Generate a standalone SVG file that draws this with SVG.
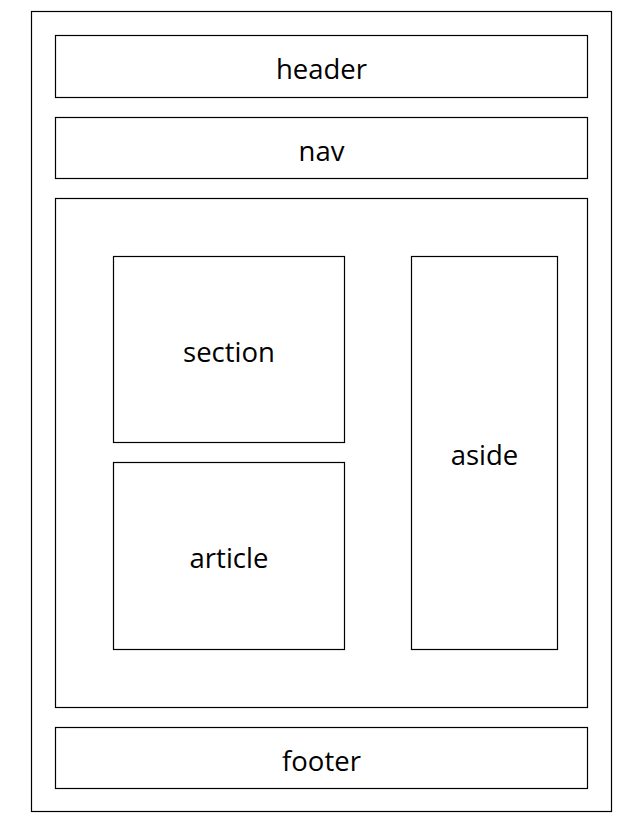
<svg xmlns="http://www.w3.org/2000/svg" width="640" height="828" viewBox="0 0 640 828">
<style>
rect{fill:#fff;stroke:#000;stroke-width:1.2}
text{font-family:"Open Sans","Noto Sans","DejaVu Sans",sans-serif;font-size:27.5px;fill:#000;text-anchor:middle}
</style>
<rect x="0" y="0" width="640" height="828" style="stroke:none"/>
<g id="page"><rect x="31.5" y="11.5" width="580" height="800"/></g>
<g id="header"><rect x="55.5" y="35.5" width="532" height="62"/><text x="321.5" y="78.5">header</text></g>
<g id="nav"><rect x="55.5" y="117.5" width="532" height="61"/><text x="321.5" y="160.5">nav</text></g>
<g id="main"><rect x="55.5" y="198.5" width="532" height="509"/></g>
<g id="section"><rect x="113.5" y="256.5" width="231" height="186"/><text x="229" y="362">section</text></g>
<g id="article"><rect x="113.5" y="462.5" width="231" height="187"/><text x="229" y="568">article</text></g>
<g id="aside"><rect x="411.5" y="256.5" width="146" height="393"/><text x="484.5" y="465">aside</text></g>
<g id="footer"><rect x="55.5" y="727.5" width="532" height="61"/><text x="321.5" y="770.5">footer</text></g>
<g id="connectors"></g>
</svg>
